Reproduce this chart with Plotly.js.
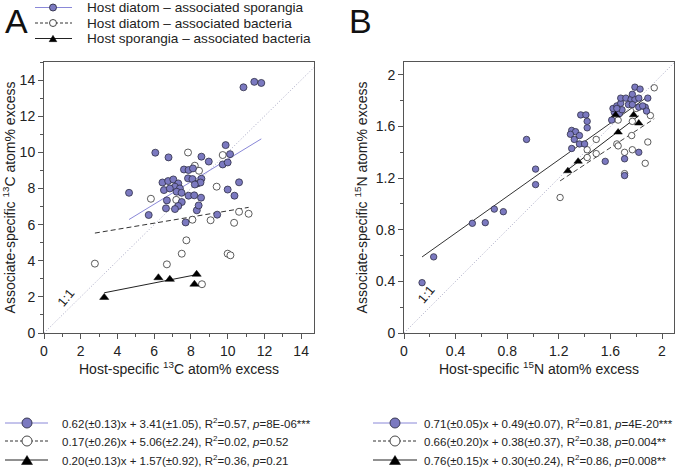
<!DOCTYPE html>
<html><head><meta charset="utf-8">
<script src="https://cdn.plot.ly/plotly-3.0.1.min.js"></script>
<style>html,body{margin:0;padding:0;background:#fff}#chart{width:677px;height:467px}</style>
</head><body><div id="chart"></div>
<script>
// ---------- series names ----------
const seriesNames = ['Host diatom – associated sporangia', 'Host diatom – associated bacteria', 'Host sporangia – associated bacteria'];

// ---------- Panel A: 13C atom% excess ----------
const cSporX = [4.63,5.70,6.06,6.78,8.57,8.97,9.89,10.13,9.73,10.00,7.62,7.87,8.11,7.84,8.08,8.57,8.35,8.52,8.21,6.45,6.76,7.04,7.31,7.13,6.53,6.85,7.40,7.22,7.49,7.87,8.18,8.55,6.69,7.50,7.31,6.64,7.13,8.32,8.42,10.00,10.62,10.37,7.71,9.43,10.86,11.45,11.83];
const cSporY = [7.76,6.53,9.98,9.72,9.76,9.49,10.40,9.90,9.33,9.44,9.05,9.02,9.11,8.56,8.52,8.54,8.28,8.33,8.22,8.33,8.41,8.50,8.28,8.10,7.91,8.00,8.00,7.82,7.76,7.60,7.62,7.49,7.34,7.25,7.03,6.90,6.86,6.79,7.06,7.94,8.34,7.60,6.12,6.55,13.60,13.90,13.84];
const cBactX = [2.77,5.82,6.69,7.20,7.50,7.75,7.84,8.08,8.21,8.44,8.60,9.07,9.40,9.73,10.00,10.15,10.35,10.62,11.14];
const cBactY = [3.84,7.43,3.80,7.37,4.39,5.13,9.99,6.27,9.26,8.98,2.70,6.24,8.10,9.85,4.39,4.30,6.10,6.71,6.60];
const cSpBactX = [3.28,6.23,6.85,8.19,8.31];
const cSpBactY = [1.97,3.06,2.97,2.70,3.25];
// regression fits printed below panel A
const cSlopes = [0.62, 0.17, 0.20];
const cIntercepts = [3.41, 5.06, 1.57];
const cEquations = [
  '0.62(±0.13)x + 3.41(±1.05), R<sup>2</sup>=0.57, <i>p</i>=8E-06***',
  '0.17(±0.26)x + 5.06(±2.24), R<sup>2</sup>=0.02, <i>p</i>=0.52',
  '0.20(±0.13)x + 1.57(±0.92), R<sup>2</sup>=0.36, <i>p</i>=0.21'
];

// ---------- Panel B: 15N atom% excess ----------
const nSporX = [0.14,0.23,0.53,0.63,0.70,0.77,0.95,1.02,1.02,1.30,1.33,1.29,1.32,1.36,1.36,1.40,1.30,1.37,1.41,1.42,1.42,1.56,1.71,1.82,1.71,1.61,1.63,1.62,1.65,1.68,1.68,1.72,1.76,1.79,1.82,1.77,1.74,1.77,1.82,1.87,1.88,1.89,1.79,1.83,1.67,1.69,1.65,1.85];
const nSporY = [0.39,0.59,0.85,0.855,0.96,0.94,1.50,1.27,1.15,1.57,1.56,1.54,1.50,1.53,1.465,1.465,1.43,1.69,1.69,1.64,1.59,1.33,1.35,1.40,1.22,1.65,1.71,1.74,1.76,1.78,1.82,1.82,1.81,1.81,1.82,1.85,1.77,1.77,1.75,1.75,1.72,1.82,1.905,1.89,1.70,1.73,1.74,1.76];
const nBactX = [1.21,1.42,1.42,1.49,1.49,1.65,1.66,1.71,1.77,1.71,1.765,1.77,1.91,1.89,1.87,1.94,1.80,1.66];
const nBactY = [1.05,1.42,1.36,1.50,1.39,1.465,1.45,1.40,1.42,1.235,1.53,1.64,1.685,1.48,1.315,1.90,1.74,1.65];
const nSpBactX = [1.27,1.35,1.64,1.66,1.78,1.82];
const nSpBactY = [1.256,1.33,1.69,1.556,1.69,1.626];
const nSlopes = [0.71, 0.66, 0.76];
const nIntercepts = [0.49, 0.38, 0.30];
const nEquations = [
  '0.71(±0.05)x + 0.49(±0.07), R<sup>2</sup>=0.81, <i>p</i>=4E-20***',
  '0.66(±0.20)x + 0.38(±0.37), R<sup>2</sup>=0.38, <i>p</i>=0.004**',
  '0.76(±0.15)x + 0.30(±0.24), R<sup>2</sup>=0.86, <i>p</i>=0.008**'
];

const axisTitlesX = ['Host-specific <sup>13</sup>C atom% excess', 'Host-specific <sup>15</sup>N atom% excess'];
const axisTitlesY = ['Associate-specific <sup>13</sup>C atom% excess', 'Associate-specific <sup>15</sup>N atom% excess'];

// ---------- styles ----------
const W = 677, H = 467;
const FILL = '#7b79c0', EDGE = '#2f2f45', SPLINE = '#8a88d8';
const styles = [
  {marker:{symbol:'circle', color:FILL, size:7, line:{color:EDGE, width:0.8}}, line:{color:SPLINE, width:1, dash:'solid'}},
  {marker:{symbol:'circle', color:'#ffffff', size:7, line:{color:'#333', width:0.8}}, line:{color:'#333', width:1, dash:'5px,3px'}},
  {marker:{symbol:'triangle-up', color:'#000', size:8, line:{color:'#000', width:0.5}}, line:{color:'#222', width:1, dash:'solid'}}
];

function fitLine(xs, m, b) {
  const x0 = Math.min(...xs), x1 = Math.max(...xs);
  return {x:[x0, x1], y:[m*x0 + b, m*x1 + b]};
}

const traces = [];
function addPanel(xa, ya, groups, slopes, intercepts, maxv, msize, lineColors) {
  // 1:1 reference
  traces.push({x:[0, maxv], y:[0, maxv], xaxis:xa, yaxis:ya, mode:'lines', hoverinfo:'skip',
    line:{color:'#a9a9c4', width:1, dash:'1px,2px'}, showlegend:false});
  groups.forEach((g, i) => {
    const f = fitLine(g[0], slopes[i], intercepts[i]);
    const ln = Object.assign({}, styles[i].line, {color:lineColors[i]});
    traces.push({x:f.x, y:f.y, xaxis:xa, yaxis:ya, mode:'lines', line:ln, showlegend:false, hoverinfo:'skip'});
  });
  // points: open first, then filled, then triangles
  [1, 0, 2].forEach(i => {
    const g = groups[i];
    const mk = JSON.parse(JSON.stringify(styles[i].marker));
    mk.size = mk.size * msize;
    traces.push({x:g[0], y:g[1], xaxis:xa, yaxis:ya, mode:'markers', name:seriesNames[i], marker:mk, showlegend:false});
  });
}
addPanel('x', 'y', [[cSporX, cSporY], [cBactX, cBactY], [cSpBactX, cSpBactY]], cSlopes, cIntercepts, 15, 1,
  [SPLINE, '#333', '#222']);
addPanel('x2', 'y2', [[nSporX, nSporY], [nBactX, nBactY], [nSpBactX, nSpBactY]], nSlopes, nIntercepts, 2.1, 0.92,
  ['#333', '#444', '#222']);

// ---------- layout helpers (pixel -> paper) ----------
const px = v => v / W, py = v => 1 - v / H;
const axColor = '#555';
function axisBase(dtick, minorDtick) {
  return {showgrid:false, zeroline:false, showline:true, linecolor:axColor, linewidth:1, mirror:true,
    ticks:'outside', ticklen:5, tickwidth:1, tickcolor:axColor, dtick:dtick, tick0:0,
    minor:{dtick:minorDtick, ticks:'outside', ticklen:3, tickwidth:1, tickcolor:axColor},
    tickfont:{size:14, color:'#222'}};
}
const yDom = [py(333), py(62)];
const layout = {
  width:W, height:H, margin:{l:0, r:0, t:0, b:0}, showlegend:false,
  paper_bgcolor:'#fff', plot_bgcolor:'#fff',
  font:{family:'Arial, Liberation Sans, sans-serif', size:14, color:'#222'},
  xaxis:Object.assign(axisBase(2, 1), {domain:[px(44), px(314)], range:[0, 14.7], anchor:'y',
    title:{text:axisTitlesX[0], font:{size:14}, standoff:6}}),
  yaxis:Object.assign(axisBase(2, 1), {domain:yDom, range:[0, 15], anchor:'x',
    title:{text:axisTitlesY[0], font:{size:14}, standoff:4}}),
  xaxis2:Object.assign(axisBase(0.4, 0.2), {domain:[px(404), px(674)], range:[0, 2.093], anchor:'y2',
    title:{text:axisTitlesX[1], font:{size:14}, standoff:6}}),
  yaxis2:Object.assign(axisBase(0.4, 0.2), {domain:yDom, range:[0, 2.1], anchor:'x2',
    title:{text:axisTitlesY[1], font:{size:14}, standoff:4}}),
  annotations:[], shapes:[]
};

// panel letters and 1:1 labels
layout.annotations.push({xref:'paper', yref:'paper', x:px(16), y:py(21), text:'A', showarrow:false, font:{size:34, color:'#111'}, xanchor:'center', yanchor:'middle'});
layout.annotations.push({xref:'paper', yref:'paper', x:px(360), y:py(21), text:'B', showarrow:false, font:{size:34, color:'#111'}, xanchor:'center', yanchor:'middle'});
layout.annotations.push({xref:'x', yref:'y', x:1.2, y:1.95, text:'1:1', showarrow:false, textangle:-50, font:{size:13, color:'#222'}});
layout.annotations.push({xref:'x2', yref:'y2', x:0.17, y:0.30, text:'1:1', showarrow:false, textangle:-50, font:{size:13, color:'#222'}});

// legend keys drawn as shapes + text
function legendKey(i, lx0, lx1, mx, y, d) {
  const ln = styles[i].line;
  layout.shapes.push({type:'line', xref:'paper', yref:'paper', x0:px(lx0), x1:px(lx1), y0:py(y), y1:py(y),
    line:{color:ln.color, width:1, dash: i === 1 ? '3px,2px' : 'solid'}});
  const mk = styles[i].marker;
  if (i < 2) {
    layout.shapes.push({type:'circle', xref:'paper', yref:'paper', xsizemode:'pixel', ysizemode:'pixel',
      xanchor:px(mx), yanchor:py(y), x0:-d/2, x1:d/2, y0:-d/2, y1:d/2,
      fillcolor:mk.color, line:{color:mk.line.color, width:0.9}});
  } else {
    const h = d * 0.9, w = d * 0.55;
    layout.shapes.push({type:'path', xref:'paper', yref:'paper', xsizemode:'pixel', ysizemode:'pixel',
      xanchor:px(mx), yanchor:py(y), path:`M ${-w} ${-h/2} L ${w} ${-h/2} L 0 ${h/2} Z`,
      fillcolor:'#000', line:{color:'#000', width:0.5}});
  }
}
[7.5, 23, 38.5].forEach((y, i) => {
  legendKey(i, 35, 72, 53, y, 7);
  layout.annotations.push({xref:'paper', yref:'paper', x:px(85), y:py(y), text:seriesNames[i], showarrow:false,
    xanchor:'left', yanchor:'middle', font:{size:13.6, color:'#222'}});
});
[423, 441, 460].forEach((y, i) => {
  legendKey(i, 5, 48, 27, y, 10);
  layout.annotations.push({xref:'paper', yref:'paper', x:px(60), y:py(y), text:cEquations[i], showarrow:false,
    xanchor:'left', yanchor:'middle', font:{size:11.5, color:'#222'}});
  legendKey(i, 373, 417, 395, y, 10);
  layout.annotations.push({xref:'paper', yref:'paper', x:px(422), y:py(y), text:nEquations[i], showarrow:false,
    xanchor:'left', yanchor:'middle', font:{size:11.5, color:'#222'}});
});

Plotly.newPlot('chart', traces, layout, {displayModeBar:false, staticPlot:true});
</script></body></html>
